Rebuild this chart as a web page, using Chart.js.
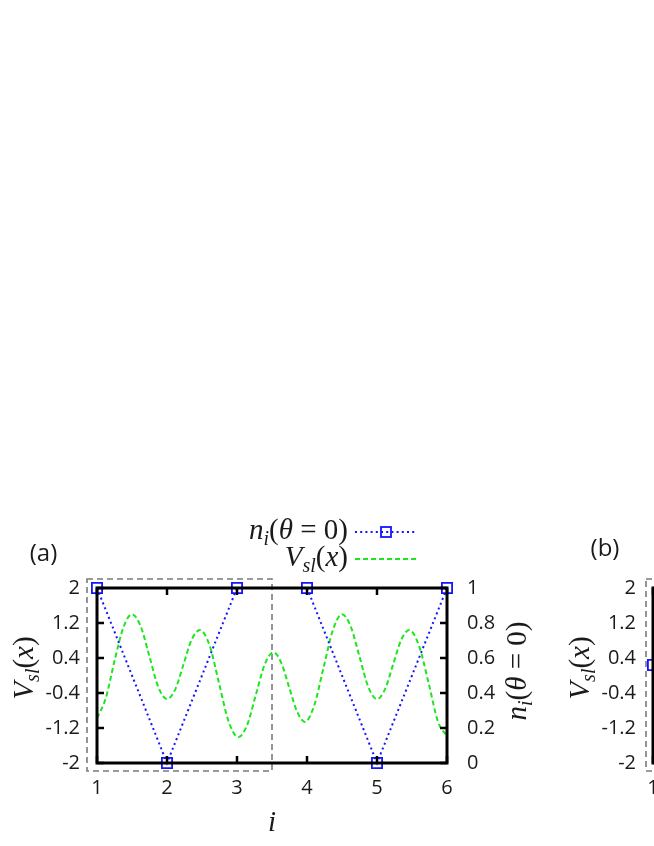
<!DOCTYPE html>
<html>
<head>
<meta charset="utf-8">
<script src="https://cdn.jsdelivr.net/npm/chart.js@4.4.0/dist/chart.umd.min.js"></script>
<style>
  html, body { margin: 0; padding: 0; background: #fff; overflow: hidden; width: 654px; height: 846px; }
  canvas { position: absolute; top: 0; }
  #chartA { left: 0; }
  #chartB { left: 556px; }
</style>
</head>
<body>
<canvas id="chartA" width="560" height="846"></canvas>
<canvas id="chartB" width="560" height="846"></canvas>
<script>
// axis ticks
const siteTicks = [1, 2, 3, 4, 5, 6]
const potentialTicks = [-2, -1.2, -0.4, 0.4, 1.2, 2]
const densityTicks = [0, 0.2, 0.4, 0.6, 0.8, 1]

// panel (a): n_i(theta = 0) on each site (right axis)
const densitySitesA = [1, 2, 3, 4, 5, 6]
const densityA = [1, 0, 1, 1, 0, 1]

// panel (a): V_sl(x) (left axis)
const potentialXA = [1, 1.125, 1.25, 1.375, 1.5, 1.625, 1.75, 1.875, 2, 2.12, 2.235, 2.35, 2.47,
  2.61, 2.745, 2.88, 3.02, 3.145, 3.27, 3.395, 3.52, 3.63, 3.745, 3.86, 3.97, 4.1, 4.235, 4.37,
  4.5, 4.625, 4.75, 4.875, 5, 5.115, 5.23, 5.345, 5.46, 5.6, 5.74, 5.87, 6]
const potentialA = [-0.98, -0.52, 0.33, 1.09, 1.4, 1.12, 0.43, -0.26, -0.54, -0.31, 0.25, 0.81, 1.04,
  0.68, -0.19, -1.05, -1.41, -1.13, -0.44, 0.25, 0.53, 0.3, -0.27, -0.83, -1.06, -0.7, 0.17, 1.04,
  1.4, 1.12, 0.43, -0.26, -0.54, -0.31, 0.25, 0.81, 1.04, 0.68, -0.19, -1.05, -1.39]

// panel (b): only its first site is inside the picture
const densitySitesB = [1]
const densityB = [0.56]

// dashed frame drawn around sites 1 .. 3.5
const boxEnd = 3.5

const blue = "#1414ff"
const green = "#1ee61e"
const ink = "#1a1a1a"
const tickFont = { family: '"Open Sans", sans-serif', size: 20 }
const serif = '"Liberation Serif", "Times New Roman", serif'

const vslRuns = [["V", "i"], ["sl", "s"], ["(", "r"], ["x", "i"], [")", "r"]]
const niRuns = [["n", "i"], ["i", "s"], ["(", "r"], ["\u03b8", "i"], [" = 0", "r"], [")", "r"]]

function drawMath(ctx, runs, x, y, size, align, angle) {
  const fontOf = k => k === "r" ? `${size}px ${serif}`
    : k === "s" ? `italic ${Math.round(size * 0.7)}px ${serif}`
    : `italic ${size}px ${serif}`
  ctx.save()
  ctx.translate(x, y)
  ctx.rotate(angle || 0)
  ctx.textBaseline = "alphabetic"
  ctx.textAlign = "left"
  let w = 0
  runs.forEach(([t, k]) => { ctx.font = fontOf(k); w += ctx.measureText(t).width })
  let cx = align === "right" ? -w : align === "center" ? -w / 2 : 0
  runs.forEach(([t, k]) => {
    ctx.font = fontOf(k)
    ctx.fillText(t, cx, k === "s" ? size * 0.22 : 0)
    cx += ctx.measureText(t).width
  })
  ctx.restore()
}

function fixedTicks(values) {
  return scale => { scale.ticks = values.map(v => ({ value: v })) }
}

// dashed grey box, plus black frame with inward ticks
const framePlugin = {
  id: "frame",
  beforeDatasetsDraw(chart, args, opts) {
    const { ctx, chartArea: a, scales } = chart
    const right = scales.x.getPixelForValue(boxEnd)
    ctx.save()
    ctx.strokeStyle = "#7a7a7a"
    ctx.lineWidth = 1.6
    ctx.setLineDash([6, 4])
    ctx.strokeRect(a.left - opts.boxPad, a.top - 9, right - a.left + opts.boxPad, a.height + 17)
    ctx.restore()
  },
  afterDatasetsDraw(chart) {
    const { ctx, chartArea: a, scales } = chart
    ctx.save()
    ctx.strokeStyle = "#000"
    ctx.lineWidth = 3
    ctx.strokeRect(a.left, a.top, a.width, a.height)
    ctx.lineWidth = 2.5
    ctx.beginPath()
    scales.x.ticks.forEach(t => {
      const px = scales.x.getPixelForValue(t.value)
      ctx.moveTo(px, a.bottom); ctx.lineTo(px, a.bottom - 7)
      ctx.moveTo(px, a.top); ctx.lineTo(px, a.top + 7)
    })
    scales.y.ticks.forEach(t => {
      const py = scales.y.getPixelForValue(t.value)
      ctx.moveTo(a.left, py); ctx.lineTo(a.left + 7, py)
    })
    scales.y1.ticks.forEach(t => {
      const py = scales.y1.getPixelForValue(t.value)
      ctx.moveTo(a.right, py); ctx.lineTo(a.right - 7, py)
    })
    ctx.stroke()
    ctx.restore()
  }
}

const textPlugin = {
  id: "panelText",
  afterDraw(chart, args, opts) {
    const { ctx, chartArea: a } = chart
    ctx.save()
    ctx.fillStyle = ink
    ctx.font = '24px "Open Sans", sans-serif'
    ctx.textAlign = "center"
    ctx.textBaseline = "alphabetic"
    ctx.fillText(opts.panel, opts.panelX, opts.panelY)
    drawMath(ctx, vslRuns, a.left - 64, 668, 29, "center", -Math.PI / 2)
    if (opts.full) {
      drawMath(ctx, niRuns, a.right + 79, 671, 29, "center", -Math.PI / 2)
      drawMath(ctx, [["i", "i"]], (a.left + a.right) / 2, 831, 29, "center")
      // legend
      drawMath(ctx, niRuns, 348, 539, 29, "right")
      drawMath(ctx, vslRuns, 348, 566, 29, "right")
      ctx.lineWidth = 2
      ctx.strokeStyle = blue
      ctx.setLineDash([2, 3.2])
      ctx.beginPath(); ctx.moveTo(355, 532); ctx.lineTo(417, 532); ctx.stroke()
      ctx.setLineDash([])
      ctx.lineWidth = 1.8
      ctx.strokeRect(381, 527, 10, 10)
      ctx.strokeStyle = green
      ctx.lineWidth = 2
      ctx.setLineDash([5, 3])
      ctx.beginPath(); ctx.moveTo(355, 559); ctx.lineTo(417, 559); ctx.stroke()
    }
    ctx.restore()
  }
}

function buildOptions(text, boxPad) {
  const tickOpts = padding => ({
    font: tickFont, color: ink, padding: padding, maxRotation: 0, autoSkip: false,
    callback: v => String(v)
  })
  return {
    responsive: false,
    animation: false,
    devicePixelRatio: 1,
    layout: { padding: { top: 588, left: 0, right: 0, bottom: 0 } },
    plugins: {
      legend: { display: false },
      tooltip: { enabled: false },
      frame: { boxPad: boxPad },
      panelText: text
    },
    scales: {
      x: {
        type: "linear", min: 1, max: 6,
        afterBuildTicks: fixedTicks(siteTicks),
        afterFit: s => { s.height = 83 },
        grid: { display: false, drawTicks: false },
        border: { display: false },
        ticks: tickOpts(13)
      },
      y: {
        type: "linear", position: "left", min: -2, max: 2,
        afterBuildTicks: fixedTicks(potentialTicks),
        afterFit: s => { s.width = 97 },
        grid: { display: false, drawTicks: false },
        border: { display: false },
        ticks: tickOpts(17)
      },
      y1: {
        type: "linear", position: "right", min: 0, max: 1,
        afterBuildTicks: fixedTicks(densityTicks),
        afterFit: s => { s.width = 113 },
        grid: { display: false, drawTicks: false },
        border: { display: false },
        ticks: tickOpts(20)
      }
    }
  }
}

function densitySet(xs, ys) {
  return {
    label: "n_i(theta = 0)",
    data: xs.map((x, i) => ({ x: x, y: ys[i] })),
    yAxisID: "y1",
    borderColor: blue,
    borderWidth: 2,
    borderDash: [2, 3.2],
    pointStyle: "rect",
    pointRadius: 7.2,
    pointBorderWidth: 1.8,
    pointBorderColor: blue,
    pointBackgroundColor: "rgba(0,0,0,0)",
    tension: 0,
    clip: 10
  }
}

new Chart(document.getElementById("chartA"), {
  type: "line",
  data: {
    datasets: [
      densitySet(densitySitesA, densityA),
      {
        label: "V_sl(x)",
        data: potentialXA.map((x, i) => ({ x: x, y: potentialA[i] })),
        yAxisID: "y",
        borderColor: green,
        borderWidth: 2,
        borderDash: [5, 3],
        pointRadius: 0,
        cubicInterpolationMode: "monotone"
      }
    ]
  },
  options: buildOptions({ panel: "(a)", panelX: 43.5, panelY: 561, full: true }, 10),
  plugins: [framePlugin, textPlugin]
})

new Chart(document.getElementById("chartB"), {
  type: "line",
  data: { datasets: [densitySet(densitySitesB, densityB)] },
  options: buildOptions({ panel: "(b)", panelX: 49, panelY: 556, full: false }, 7),
  plugins: [framePlugin, textPlugin]
})
</script>
</body>
</html>
